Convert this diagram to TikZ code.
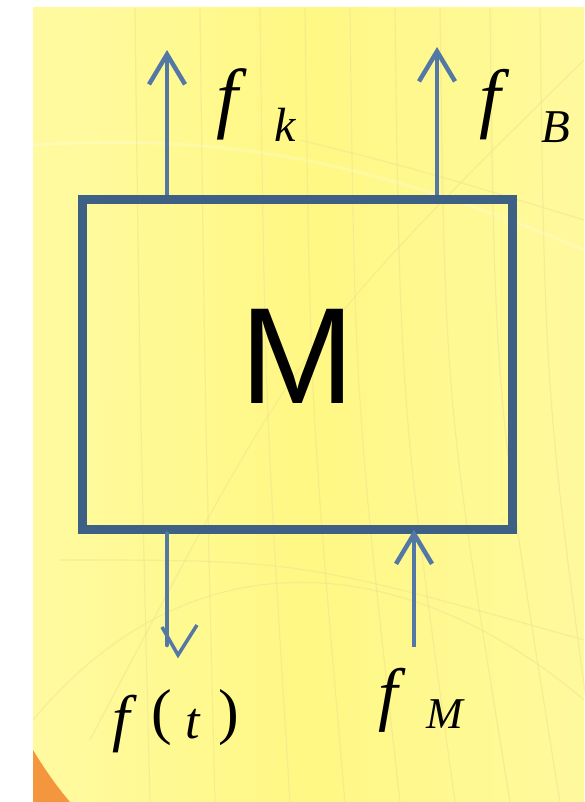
\documentclass[tikz,border=0pt]{standalone}
\usepackage{fontspec}
\setmainfont{Liberation Serif}
\newfontfamily\arialfont{Liberation Sans}
\usetikzlibrary{arrows.meta}
\definecolor{bgyellow}{HTML}{FFF884}
\definecolor{bgpale}{HTML}{FFFAA0}
\definecolor{bgright}{HTML}{FFF99E}
\definecolor{bgline}{HTML}{E9E08E}
\definecolor{cornerorange}{HTML}{F4963E}
\definecolor{boxblue}{HTML}{3E6085}
\definecolor{arrowblue}{HTML}{5378A6}
\tikzset{
  boxstyle/.style={draw=boxblue, line width=9pt, inner sep=0pt, minimum width=430pt, minimum height=329pt},
  arr/.style={draw=arrowblue, line width=4.5pt, -{Straight Barb[length=30pt,width=36pt]}},
  shaft/.style={draw=arrowblue, line width=4.5pt, line cap=round},
  barb/.style={draw=arrowblue, line width=3.5pt, line join=miter},
  lab/.style={inner sep=0pt, anchor=base west, text=black},
  faint/.style={draw=bgline, line width=1.2pt, opacity=0.45},
  faintw/.style={draw=white, line width=3pt, opacity=0.2}
}
\newcommand{\fsz}[1]{\fontsize{#1}{#1}\selectfont}
\begin{document}
\begin{tikzpicture}[x=1pt,y=-1pt]
\useasboundingbox (0,0) rectangle (584,802);
% background
\fill[white] (0,0) rectangle (584,802);
\shade[left color=bgpale, right color=bgright, middle color=bgyellow] (33,8) rectangle (584,802);
\fill[bgpale, opacity=0.4] (33,8) rectangle (130,400);
% faint background lines
\foreach \xa/\xb in {135/150,200/215,260/290,305/345,350/400,395/455,440/510,490/560,540/600}{
  \draw[faint] (\xa,8) .. controls (\xa+5,400) .. (\xb,802);
}
\draw[faintw] (33,145) .. controls (200,135) and (350,150) .. (584,250);
\draw[faint] (300,140) .. controls (420,170) .. (584,220);
\draw[faint] (33,720) .. controls (200,520) and (420,560) .. (584,700);
\draw[faint] (60,560) .. controls (300,560) .. (584,640);
\draw[faint] (90,740) .. controls (300,340) .. (584,60);
% orange corner
\fill[cornerorange] (33,750) .. controls (45,770) and (58,788) .. (70,802) -- (33,802) -- cycle;
% box
\node[boxstyle] (box) at (297,364.5) {};
\node[inner sep=0pt, text=black] (mtext) at (298,356) {\arialfont\fsz{137}M};
% coordinates
\coordinate (tk) at (167,50);
\coordinate (tb) at (437,47);
\coordinate (ft) at (167,645);
\coordinate (fm) at (414,647);
\coordinate (va) at (162,627);
\coordinate (vb) at (178,655);
\coordinate (vc) at (197,625);
% arrows
\draw[arr] (tk |- box.north) -- (tk);
\draw[arr] (tb |- box.north) -- (tb);
\draw[shaft] (ft |- box.south) -- (ft);
\draw[barb] (va) -- (vb) -- (vc);
\draw[arr] (fm) -- ([yshift=4pt]fm |- box.south);
% labels
\node[lab] (lfk) at (216.5,124) {\fsz{78}\textit{f}\hspace{26.8pt}\raisebox{-17.5pt}{\fsz{48}\textit{k}}};
\node[lab] (lfb) at (479,124) {\fsz{77}\textit{f}\hspace{31.6pt}\raisebox{-19pt}{\fsz{47}\textit{B}}};
\node[lab] (lfm) at (378,717.5) {\fsz{70}\textit{f}\hspace{20.5pt}\raisebox{-10.5pt}{\fsz{44}\textit{M}}};
\node[lab] (lft) at (112,739) {\fsz{63}\textit{f}\hspace{14.5pt}\raisebox{7pt}{\fsz{62}(}\hspace{13.4pt}\raisebox{1pt}{\fsz{52}\textit{t}}\hspace{17pt}\raisebox{7pt}{\fsz{62})}};
\end{tikzpicture}
\end{document}
